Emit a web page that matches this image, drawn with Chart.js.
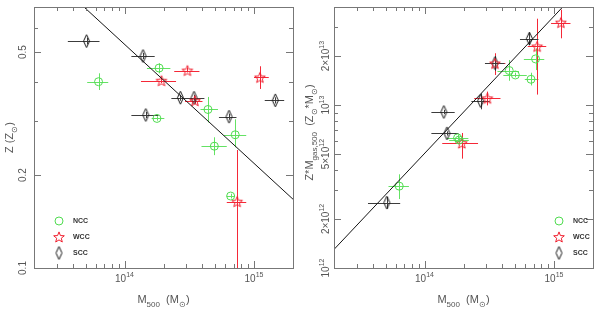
<!DOCTYPE html>
<html><head><meta charset="utf-8">
<script src="https://cdn.jsdelivr.net/npm/chart.js@4"></script>
<style>
html,body{margin:0;padding:0;background:#fff;width:600px;height:309px;overflow:hidden}
canvas{position:absolute;top:0}
#c1{left:0}#c2{left:300px}
</style></head>
<body>
<canvas id="c1" width="300" height="309"></canvas>
<canvas id="c2" width="300" height="309"></canvas>
<script>
// ---------------- DATA ----------------
// Left panel: Z (Zsun) vs M500 (Msun)
const L_nccM   = [6.3e13, 1.85e14, 1.78e14, 4.41e14, 7.16e14, 4.94e14, 6.6e14];
const L_nccMlo = [5.15e13, 1.49e14, 1.62e14, 3.86e14, 5.85e14, 3.93e14, 6.16e14];
const L_nccMhi = [7.49e13, 2.26e14, 2.03e14, 5.27e14, 8.71e14, 6.16e14, 7.07e14];
const L_nccZ   = [0.401, 0.444, 0.305, 0.326, 0.270, 0.248, 0.171];
const L_nccZlo = [0.377, 0.427, 0.300, 0.296, 0.246, 0.232, 0.168];
const L_nccZhi = [0.427, 0.460, 0.310, 0.358, 0.303, 0.265, 0.174];

const L_wccM   = [3.06e14, 1.93e14, 3.5e14, 1.11e15, 7.41e14];
const L_wccMlo = [2.42e14, 1.34e14, 2.93e14, 1.0e15, 6.16e14];
const L_wccMhi = [3.79e14, 2.50e14, 4.0e14, 1.30e15, 8.71e14];
const L_wccZ   = [0.436, 0.404, 0.348, 0.414, 0.164];
const L_wccZlo = [0.430, 0.397, 0.340, 0.380, 0.050];
const L_wccZhi = [0.445, 0.412, 0.356, 0.450, 0.241];

const L_sccM   = [5.09e13, 1.39e14, 2.70e14, 3.44e14, 1.46e14, 6.41e14, 1.46e15];
const L_sccMlo = [3.65e13, 1.13e14, 2.30e14, 2.98e14, 1.13e14, 5.36e14, 1.21e15];
const L_sccMhi = [6.41e13, 1.71e14, 3.24e14, 4.14e14, 1.83e14, 7.32e14, 1.71e15];
const L_sccZ   = [0.543, 0.486, 0.356, 0.356, 0.313, 0.309, 0.349];
const L_sccZlo = [0.530, 0.475, 0.348, 0.348, 0.306, 0.302, 0.341];
const L_sccZhi = [0.556, 0.497, 0.364, 0.364, 0.320, 0.316, 0.357];

const L_fitM = [2e13, 2e15];
const L_fitZ = [0.986, 0.167];

// Right panel: Z*Mgas,500 (Zsun*Msun) vs M500 (Msun)
const R_nccM   = [7.2e14, 4.51e14, 5.03e14, 6.64e14, 1.80e14, 1.85e14, 6.38e13];
const R_nccMlo = [5.85e14, 3.66e14, 4.06e14, 5.95e14, 1.49e14, 1.55e14, 5.27e13];
const R_nccMhi = [8.41e14, 5.36e14, 6.16e14, 7.58e14, 2.18e14, 2.20e14, 7.58e13];
const R_nccY   = [1.92e13, 1.63e13, 1.53e13, 1.44e13, 6.29e12, 6.10e12, 3.18e12];
const R_nccYlo = [1.64e13, 1.41e13, 1.48e13, 1.32e13, 6.00e12, 5.85e12, 2.65e12];
const R_nccYhi = [2.23e13, 1.89e13, 1.58e13, 1.58e13, 6.60e12, 6.35e12, 3.76e12];

const R_wccM   = [1.13e15, 7.41e14, 3.5e14, 3.06e14, 1.94e14];
const R_wccMlo = [9.49e14, 6.27e14, 2.93e14, 2.42e14, 1.37e14];
const R_wccMhi = [1.34e15, 8.71e14, 4.21e14, 3.86e14, 2.59e14];
const R_wccY   = [3.21e13, 2.29e13, 1.80e13, 1.10e13, 5.84e12];
const R_wccYlo = [2.57e13, 1.16e13, 1.53e13, 9.96e12, 4.69e12];
const R_wccYhi = [3.85e13, 3.39e13, 2.08e13, 1.21e13, 6.74e12];

const R_sccM   = [6.45e14, 3.5e14, 2.71e14, 1.41e14, 1.49e14, 5.12e13];
const R_sccMlo = [5.46e14, 2.93e14, 2.30e14, 1.13e14, 1.13e14, 3.66e13];
const R_sccMhi = [7.58e14, 4.14e14, 3.19e14, 1.71e14, 1.83e14, 6.49e13];
const R_sccY   = [2.56e13, 1.81e13, 1.06e13, 9.07e12, 6.71e12, 2.52e12];
const R_sccYlo = [2.33e13, 1.62e13, 9.42e12, 8.80e12, 6.50e12, 2.31e12];
const R_sccYhi = [2.79e13, 2.00e13, 1.18e13, 9.35e12, 6.90e12, 2.73e12];

const R_fitM = [2e13, 2e15];
const R_fitY = [1.30e12, 6.3e13];

// Axis tick values / labels
const xTicks      = [2e13,3e13,4e13,5e13,6e13,7e13,8e13,9e13,1e14,2e14,3e14,4e14,5e14,6e14,7e14,8e14,9e14,1e15,2e15];
const xMajor      = [1e14, 1e15];
const xMajorLabels= [[['10',0],['14',1]], [['10',0],['15',1]]];
const yLTicks     = [0.1,0.2,0.3,0.4,0.5,0.6,0.7];
const yLMajor     = [0.1, 0.2, 0.5];
const yLMajorLabels = [[['0.1',0]], [['0.2',0]], [['0.5',0]]];
const yRTicks     = [1e12,2e12,3e12,4e12,5e12,6e12,7e12,8e12,9e12,1e13,2e13,3e13,4e13];
const yRMajor     = [1e12, 2e12, 5e12, 1e13, 2e13];
const yRMajorLabels = [
  [['10',0],['12',1]],
  [['2\u00d710',0],['12',1]],
  [['5\u00d710',0],['12',1]],
  [['10',0],['13',1]],
  [['2\u00d710',0],['13',1]]
];
const legendNames = ['NCC', 'WCC', 'SCC'];

// ---------------- STYLE ----------------
const GREEN = 'rgb(80,220,80)';
const RED   = 'rgb(240,30,45)';
const BLACK = 'rgb(20,20,20)';
const GREEN_E = 'rgb(100,226,100)';
const RED_E   = 'rgb(245,40,55)';
const BLACK_E = 'rgb(60,60,60)';
const FONT = '"Liberation Sans", Arial, sans-serif';
const TXT = '#555';
const AX  = '#777';

function starImg(color){
  const s=16, c=document.createElement('canvas'); c.width=s; c.height=s;
  const g=c.getContext('2d'); g.strokeStyle=color; g.lineWidth=1;
  const R=5.6, r=2.4; g.beginPath();
  for(let i=0;i<10;i++){ const a=-Math.PI/2+i*Math.PI/5, rr=i%2?r:R;
    const px=s/2+rr*Math.cos(a), py=s/2+0.5+rr*Math.sin(a); i?g.lineTo(px,py):g.moveTo(px,py);}
  g.closePath(); g.stroke(); return c;
}
function diamondImg(color){
  const w=9, h=15, c=document.createElement('canvas'); c.width=w; c.height=h;
  const g=c.getContext('2d'); g.strokeStyle=color; g.lineWidth=1;
  g.beginPath(); g.moveTo(w/2,1); g.lineTo(w/2+3,h/2); g.lineTo(w/2,h-1); g.lineTo(w/2-3,h/2); g.closePath(); g.stroke();
  return c;
}
const STAR = starImg(RED), DIAM = diamondImg(BLACK);

function rich(ctx, segs, x, y, align, size){
  const ss = Math.round(size*0.72);
  const parts = segs.map(s=>{ ctx.font=(s[1]?ss:size)+'px '+FONT; return {t:s[0], k:s[1], w:ctx.measureText(s[0]).width}; });
  const W = parts.reduce((a,p)=>a+p.w,0);
  let cx = align==='center'? x-W/2 : (align==='right'? x-W : x);
  ctx.textAlign='left'; ctx.textBaseline='alphabetic';
  parts.forEach(p=>{ ctx.font=(p.k?ss:size)+'px '+FONT;
    const dy = p.k===1 ? -size*0.48 : (p.k===2 ? size*0.32 : 0);
    ctx.fillText(p.t, cx, y+dy); cx+=p.w; });
}

function zip(a,b){ return a.map((v,i)=>({x:v,y:b[i]})); }

function makeChart(id, cfg){
  const deco = {
    id:'deco',
    beforeDatasetsDraw(chart){
      const {ctx, chartArea:a, scales:{x,y}} = chart;
      ctx.save(); ctx.beginPath(); ctx.rect(a.left,a.top,a.right-a.left,a.bottom-a.top); ctx.clip();
      ctx.lineWidth=1;
      cfg.errs.forEach(g=>{
        ctx.strokeStyle=g.color;
        g.m.forEach((m,i)=>{
          const px=Math.round(x.getPixelForValue(m))+0.5, py=Math.round(y.getPixelForValue(g.v[i]))+0.5;
          ctx.beginPath();
          ctx.moveTo(x.getPixelForValue(g.mlo[i]),py); ctx.lineTo(x.getPixelForValue(g.mhi[i]),py);
          ctx.moveTo(px,y.getPixelForValue(g.vlo[i])); ctx.lineTo(px,y.getPixelForValue(g.vhi[i]));
          ctx.stroke();
        });
      });
      ctx.restore();
    },
    afterDraw(chart){
      const {ctx, chartArea:a, scales:{x,y}} = chart;
      ctx.save();
      ctx.strokeStyle=AX; ctx.lineWidth=1;
      ctx.strokeRect(Math.round(a.left)+0.5, Math.round(a.top)+0.5, Math.round(a.right-a.left), Math.round(a.bottom-a.top));
      ctx.beginPath();
      xTicks.forEach(v=>{
        const px=Math.round(x.getPixelForValue(v))+0.5, len = xMajor.includes(v)?7:4;
        ctx.moveTo(px,a.bottom); ctx.lineTo(px,a.bottom-len);
        ctx.moveTo(px,a.top); ctx.lineTo(px,a.top+len);
      });
      cfg.yTicks.forEach(v=>{
        const py=Math.round(y.getPixelForValue(v))+0.5, len = cfg.yMajor.includes(v)?7:4;
        ctx.moveTo(a.left,py); ctx.lineTo(a.left+len,py);
        ctx.moveTo(a.right,py); ctx.lineTo(a.right-len,py);
      });
      ctx.stroke();
      ctx.fillStyle=TXT;
      xMajor.forEach((v,i)=> rich(ctx, xMajorLabels[i], x.getPixelForValue(v), a.bottom+14, 'center', 10));
      cfg.yMajor.forEach((v,i)=>{
        ctx.save(); ctx.translate(cfg.yLabX, y.getPixelForValue(v)); ctx.rotate(-Math.PI/2);
        rich(ctx, cfg.yMajorLabels[i], 0, 3.6, 'center', 10); ctx.restore();
      });
      // axis titles
      rich(ctx, [['M',0],['500',2],['  (M',0],['\u2299',2],[')',0]], (a.left+a.right)/2, 303, 'center', 11);
      ctx.save(); ctx.translate(cfg.yTitleX, (a.top+a.bottom)/2 + cfg.yTitleDy); ctx.rotate(-Math.PI/2);
      rich(ctx, cfg.yTitle, 0, 0, 'center', 11); ctx.restore();
      // legend
      const lx = cfg.legX, ly = cfg.legY;
      ctx.strokeStyle=GREEN; ctx.lineWidth=1; ctx.beginPath(); ctx.arc(lx, ly[0], 4, 0, 2*Math.PI); ctx.stroke();
      ctx.drawImage(STAR, lx-8, ly[1]-8);
      ctx.drawImage(DIAM, lx-4.5, ly[2]-7.5);
      ctx.fillStyle='#333'; ctx.font='bold 7px '+FONT; ctx.textAlign='left'; ctx.textBaseline='middle';
      legendNames.forEach((n,i)=>ctx.fillText(n, lx+14, ly[i]+0.5));
      ctx.restore();
    }
  };
  return new Chart(document.getElementById(id), {
    type:'scatter',
    data:{ datasets:[
      {data:zip(cfg.fitM,cfg.fitV), showLine:true, borderColor:BLACK, borderWidth:1, pointRadius:0, fill:false},
      {data:zip(cfg.ncc[0],cfg.ncc[1]), pointStyle:'circle', pointRadius:4, borderColor:GREEN, backgroundColor:'rgba(0,0,0,0)', borderWidth:1},
      {data:zip(cfg.wcc[0],cfg.wcc[1]), pointStyle:STAR, pointRadius:6},
      {data:zip(cfg.scc[0],cfg.scc[1]), pointStyle:DIAM, pointRadius:6}
    ]},
    options:{
      responsive:false, animation:false, events:[],
      layout:{padding:{left:34, right:2, top:3, bottom:41}},
      plugins:{legend:{display:false}, tooltip:{enabled:false}},
      scales:{
        x:{type:'logarithmic', min:2e13, max:2e15, display:false},
        y:{type:'logarithmic', min:cfg.yMin, max:cfg.yMax, display:false}
      }
    },
    plugins:[deco]
  });
}

makeChart('c1', {
  fitM:L_fitM, fitV:L_fitZ,
  ncc:[L_nccM,L_nccZ], wcc:[L_wccM,L_wccZ], scc:[L_sccM,L_sccZ],
  errs:[
    {color:GREEN_E, m:L_nccM, mlo:L_nccMlo, mhi:L_nccMhi, v:L_nccZ, vlo:L_nccZlo, vhi:L_nccZhi},
    {color:RED_E,   m:L_wccM, mlo:L_wccMlo, mhi:L_wccMhi, v:L_wccZ, vlo:L_wccZlo, vhi:L_wccZhi},
    {color:BLACK_E, m:L_sccM, mlo:L_sccMlo, mhi:L_sccMhi, v:L_sccZ, vlo:L_sccZlo, vhi:L_sccZhi}
  ],
  yMin:0.1, yMax:0.7, yTicks:yLTicks, yMajor:yLMajor, yMajorLabels:yLMajorLabels, yLabX:22,
  yTitle:[['Z (Z',0],['\u2299',2],[')',0]], yTitleX:13, yTitleDy:0,
  legX:59, legY:[221,237,253]
});
makeChart('c2', {
  fitM:R_fitM, fitV:R_fitY,
  ncc:[R_nccM,R_nccY], wcc:[R_wccM,R_wccY], scc:[R_sccM,R_sccY],
  errs:[
    {color:GREEN_E, m:R_nccM, mlo:R_nccMlo, mhi:R_nccMhi, v:R_nccY, vlo:R_nccYlo, vhi:R_nccYhi},
    {color:RED_E,   m:R_wccM, mlo:R_wccMlo, mhi:R_wccMhi, v:R_wccY, vlo:R_wccYlo, vhi:R_wccYhi},
    {color:BLACK_E, m:R_sccM, mlo:R_sccMlo, mhi:R_sccMhi, v:R_sccY, vlo:R_sccYlo, vhi:R_sccYhi}
  ],
  yMin:1e12, yMax:4e13, yTicks:yRTicks, yMajor:yRMajor, yMajorLabels:yRMajorLabels, yLabX:25,
  yTitle:[['Z*M',0],['gas,500',2],['  (Z',0],['\u2299',2],['*M',0],['\u2299',2],[')',0]], yTitleX:13, yTitleDy:-5,
  legX:259, legY:[221,237,253]
});
</script>
</body></html>
